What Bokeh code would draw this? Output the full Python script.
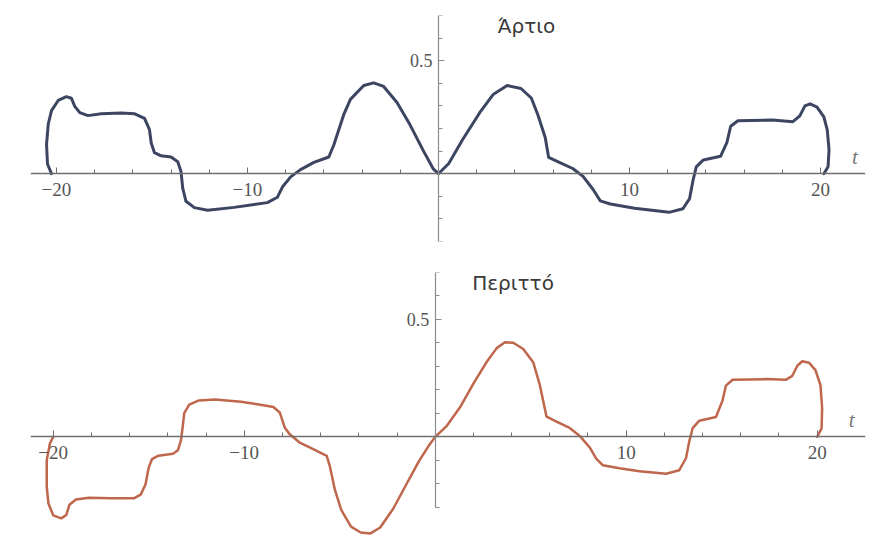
from bokeh.plotting import figure
from bokeh.layouts import column
from bokeh.models import FixedTicker, Label, Range1d
from bokeh.embed import file_html
from bokeh.resources import INLINE

# ---- data ----
even_t = [-20.26, -20.47, -20.52, -20.43, -20.26, -19.91, -19.48, -19.22, -19.04, -18.78, -18.35,
          -17.65, -16.6, -15.9, -15.39, -15.13, -15.04, -14.87, -14.52, -14.0, -13.65, -13.48,
          -13.39, -13.22, -12.78, -12.09, -10.7, -8.96, -8.43, -8.17, -7.74, -7.22, -6.52,
          -5.74, -5.48, -4.96, -4.61, -3.91, -3.39, -2.87, -2.17, -1.48, -0.78, -0.26, 0.0,
          0.54, 1.26, 2.16, 2.88, 3.6, 4.32, 4.86, 5.2, 5.59, 5.77, 6.3, 7.03, 7.57, 8.1,
          8.47, 9.0, 10.27, 12.07, 12.8, 13.15, 13.33, 13.5, 13.87, 14.77, 15.1, 15.3, 15.68,
          17.48, 18.56, 18.92, 19.19, 19.46, 19.82, 20.18, 20.36, 20.45, 20.4, 20.18]
even_y = [0.0, 0.043, 0.13, 0.22, 0.279, 0.324, 0.341, 0.334, 0.298, 0.27, 0.257,
          0.265, 0.269, 0.265, 0.245, 0.195, 0.136, 0.093, 0.079, 0.074, 0.053, 0.01,
          -0.064, -0.122, -0.15, -0.162, -0.149, -0.128, -0.104, -0.059, -0.014, 0.018, 0.05,
          0.074, 0.127, 0.261, 0.329, 0.39, 0.402, 0.386, 0.315, 0.215, 0.10, 0.02, 0.0,
          0.045, 0.15, 0.27, 0.352, 0.39, 0.377, 0.335, 0.262, 0.16, 0.072, 0.051, 0.023, -0.012, -0.07,
          -0.12, -0.134, -0.153, -0.171, -0.155, -0.11, -0.029, 0.03, 0.061, 0.077, 0.137, 0.21, 0.234,
          0.238, 0.23, 0.256, 0.30, 0.309, 0.295, 0.251, 0.193, 0.105, 0.031, 0.0]

odd_t = [-20.0, -20.17, -20.34, -20.34, -20.25, -20.0, -19.58, -19.32, -19.15, -18.81, -18.14,
         -16.95, -15.76, -15.42, -15.17, -15.0, -14.83, -14.49, -13.73, -13.47, -13.31, -13.22,
         -13.14, -12.88, -12.37, -11.53, -10.17, -9.15, -8.47, -8.14, -7.88, -7.63, -7.12,
         -6.44, -5.68, -5.51, -5.25, -4.92, -4.41, -3.9, -3.39, -2.88, -2.2, -1.53, -0.85,
         -0.34, 0.0, 0.61, 1.3, 2.0, 2.7, 3.22, 3.65, 4.09, 4.61, 5.13, 5.48, 5.83, 6.35,
         7.04, 7.57, 8.09, 8.43, 8.78, 9.65, 10.7, 12.09, 12.78, 13.13, 13.3, 13.48, 13.83,
         14.7, 15.04, 15.22, 15.57, 17.3, 18.35, 18.7, 18.96, 19.22, 19.57, 19.91, 20.17,
         20.26, 20.23, 20.0]
odd_y = [0.0, -0.027, -0.099, -0.213, -0.284, -0.334, -0.347, -0.333, -0.289, -0.267, -0.259,
         -0.261, -0.261, -0.246, -0.203, -0.131, -0.095, -0.08, -0.072, -0.057, -0.014, 0.044,
         0.101, 0.137, 0.155, 0.159, 0.15, 0.137, 0.127, 0.104, 0.04, 0.012, -0.023,
         -0.05, -0.081, -0.127, -0.226, -0.311, -0.382, -0.407, -0.411, -0.386, -0.306, -0.205, -0.103,
         -0.038, 0.0, 0.047, 0.126, 0.227, 0.32, 0.378, 0.403, 0.401, 0.374, 0.318, 0.22, 0.086, 0.065,
         0.038, 0.004, -0.045, -0.093, -0.121, -0.134, -0.146, -0.157, -0.142, -0.091, -0.02, 0.037, 0.069,
         0.085, 0.154, 0.218, 0.243, 0.246, 0.243, 0.26, 0.303, 0.322, 0.316, 0.284, 0.221,
         0.122, 0.036, 0.0]

x_major = [-20, -10, 10, 20]
x_minor = [-20, -18, -16, -14, -12, -10, -8, -6, -4, -2, 2, 4, 6, 8, 10, 12, 14, 16, 18, 20]
y_major = [0.5]
y_minor = [-0.3, -0.2, -0.1, 0.1, 0.2, 0.3, 0.4, 0.5, 0.6, 0.7]
x_labels = {-20: "\u221220", -10: "\u221210", 10: "10", 20: "20"}
titles = ["\u0386\u03c1\u03c4\u03b9\u03bf", "\u03a0\u03b5\u03c1\u03b9\u03c4\u03c4\u03cc"]

AXIS_COL = "#6f6f6f"
LABEL_COL = "#555555"


def make_panel(ts, ys, color, lw, xr, yr, height, bl, br, bt, bb, title, title_x, title_y):
    p = figure(width=883, height=height, output_backend="svg", toolbar_location=None,
               x_range=Range1d(*xr), y_range=Range1d(*yr),
               min_border_left=bl, min_border_right=br, min_border_top=bt, min_border_bottom=bb)
    p.grid.visible = False
    p.outline_line_color = None
    p.background_fill_color = "white"
    p.border_fill_color = "white"
    p.line(ts, ys, line_color=color, line_width=lw, line_join="round", line_cap="round")

    xa = p.xaxis[0]
    xa.fixed_location = 0
    xa.ticker = FixedTicker(ticks=x_major, minor_ticks=x_minor)
    xa.major_label_overrides = x_labels
    xa.axis_line_color = AXIS_COL
    xa.axis_line_width = 1.6
    xa.major_tick_in = 6
    xa.major_tick_out = 0
    xa.minor_tick_in = 4
    xa.minor_tick_out = 0
    xa.major_tick_line_color = AXIS_COL
    xa.minor_tick_line_color = AXIS_COL
    xa.major_label_standoff = 9
    xa.major_label_text_font = "Liberation Serif"
    xa.major_label_text_font_size = "19px"
    xa.major_label_text_color = LABEL_COL

    ya = p.yaxis[0]
    ya.fixed_location = 0
    ya.bounds = (-0.3, 0.7)
    ya.ticker = FixedTicker(ticks=y_major, minor_ticks=y_minor)
    ya.axis_line_color = "#8a8a8a"
    ya.axis_line_width = 1.2
    ya.major_tick_in = 6
    ya.major_tick_out = 0
    ya.minor_tick_in = 4
    ya.minor_tick_out = 0
    ya.major_tick_line_color = "#8a8a8a"
    ya.minor_tick_line_color = "#8a8a8a"
    ya.major_label_standoff = 6
    ya.major_label_text_font = "Liberation Serif"
    ya.major_label_text_font_size = "18px"
    ya.major_label_text_color = LABEL_COL
    ya.major_label_orientation = "horizontal"

    p.add_layout(Label(x=title_x, y=title_y, text=title, text_font="DejaVu Sans",
                       text_font_size="20px", text_color="#3a3a3a",
                       text_baseline="middle", text_align="left"))
    p.add_layout(Label(x=21.8, y=0.02, text="t", text_font="Liberation Serif",
                       text_font_style="italic", text_font_size="21px", text_color="#777777",
                       text_baseline="bottom", text_align="center"))
    return p


top = make_panel(even_t, even_y, "#3c4561", 3.0, (-21.36, 22.36), (-0.3, 0.7), 254,
                 30, 18, 15, 13, titles[0], 3.1, 0.655)
bottom = make_panel(odd_t, odd_y, "#bf674c", 2.5, (-21.19, 22.53), (-0.42, 0.7), 281,
                    22, 13, 18, 0, titles[1], 1.94, 0.657)

page = column(top, bottom, spacing=0)
open("out.html", "w").write(file_html(page, INLINE))
